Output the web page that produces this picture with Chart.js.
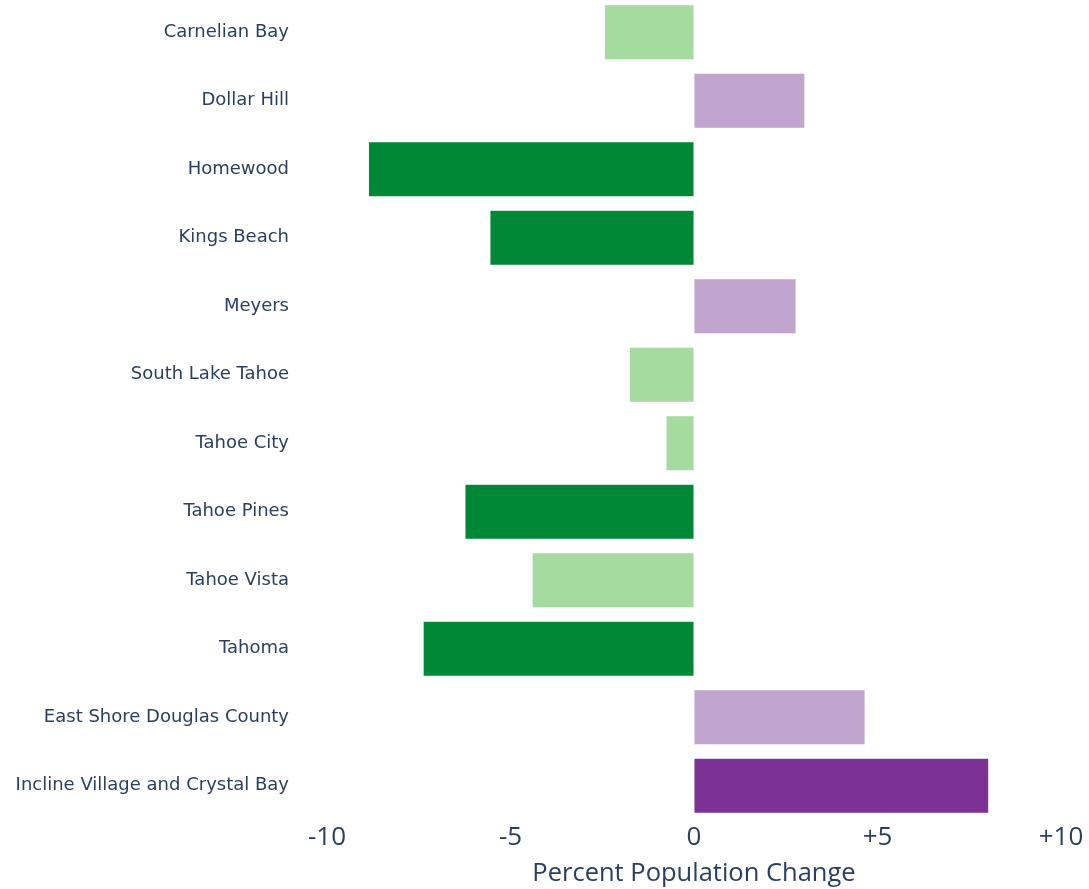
<!DOCTYPE html>
<html>
<head>
<meta charset="utf-8">
<script src="https://cdn.jsdelivr.net/npm/chart.js@4.4.1/dist/chart.umd.min.js"></script>
<style>
  html, body { margin: 0; padding: 0; background: #ffffff; overflow: hidden; }
  #wrap { position: absolute; left: 0; top: -2px; width: 1089px; height: 891px; }
</style>
</head>
<body>
<div id="wrap"><canvas id="chart"></canvas></div>
<script>
const categories = [
  "Carnelian Bay", "Dollar Hill", "Homewood", "Kings Beach", "Meyers",
  "South Lake Tahoe", "Tahoe City", "Tahoe Pines", "Tahoe Vista", "Tahoma",
  "East Shore Douglas County", "Incline Village and Crystal Bay"
];
const percentChange = [-2.44, 3.02, -8.87, -5.56, 2.78, -1.76, -0.76, -6.24, -4.41, -7.38, 4.66, 8.03];
const tickValues = [-10, -5, 0, 5, 10];
const tickLabels = ["-10", "-5", "0", "+5", "+10"];
const axisTitle = "Percent Population Change";

function barColor(v) {
  if (v <= -5) return "#008837";
  if (v < 0) return "#a6dba0";
  if (v >= 5) return "#7b3294";
  return "#c2a5cf";
}

const textColor = "#2a3f5f";
const fontFamily = "'Open Sans', 'DejaVu Sans', sans-serif";
const labelFamily = "'DejaVu Sans', Verdana, sans-serif";

new Chart(document.getElementById("chart"), {
  type: "bar",
  data: {
    labels: categories,
    datasets: [{
      data: percentChange,
      backgroundColor: percentChange.map(barColor),
      borderColor: "#E5ECF6",
      borderWidth: 0.5,
      borderSkipped: false,
      barPercentage: 0.8,
      categoryPercentage: 1.0
    }]
  },
  options: {
    indexAxis: "y",
    responsive: true,
    maintainAspectRatio: false,
    animation: false,
    layout: { padding: { left: 0, right: 28, top: 0, bottom: 0 } },
    plugins: { legend: { display: false }, tooltip: { enabled: false } },
    scales: {
      x: {
        min: -10, max: 10,
        afterBuildTicks: (scale) => { scale.ticks = tickValues.map(v => ({ value: v })); },
        afterFit: (scale) => { scale.height = 69; },
        grid: { display: false, drawTicks: false, tickLength: 0 },
        border: { display: false },
        ticks: {
          padding: 1.5,
          color: textColor,
          font: { family: fontFamily, size: 26 },
          maxRotation: 0,
          callback: (v) => { const i = tickValues.indexOf(v); return i >= 0 ? tickLabels[i] : ""; }
        },
        title: {
          display: true,
          text: axisTitle,
          color: textColor,
          font: { family: fontFamily, size: 25.5 },
          padding: { top: 0, bottom: 0 }
        }
      },
      y: {
        afterFit: (scale) => { scale.width = 327; scale.paddingTop = 0; scale.paddingBottom = 0; },
        grid: { display: false, drawTicks: false, tickLength: 0 },
        border: { display: false },
        ticks: {
          padding: 38,
          color: textColor,
          font: { family: labelFamily, size: 18 },
          autoSkip: false
        }
      }
    }
  }
});
</script>
</body>
</html>
